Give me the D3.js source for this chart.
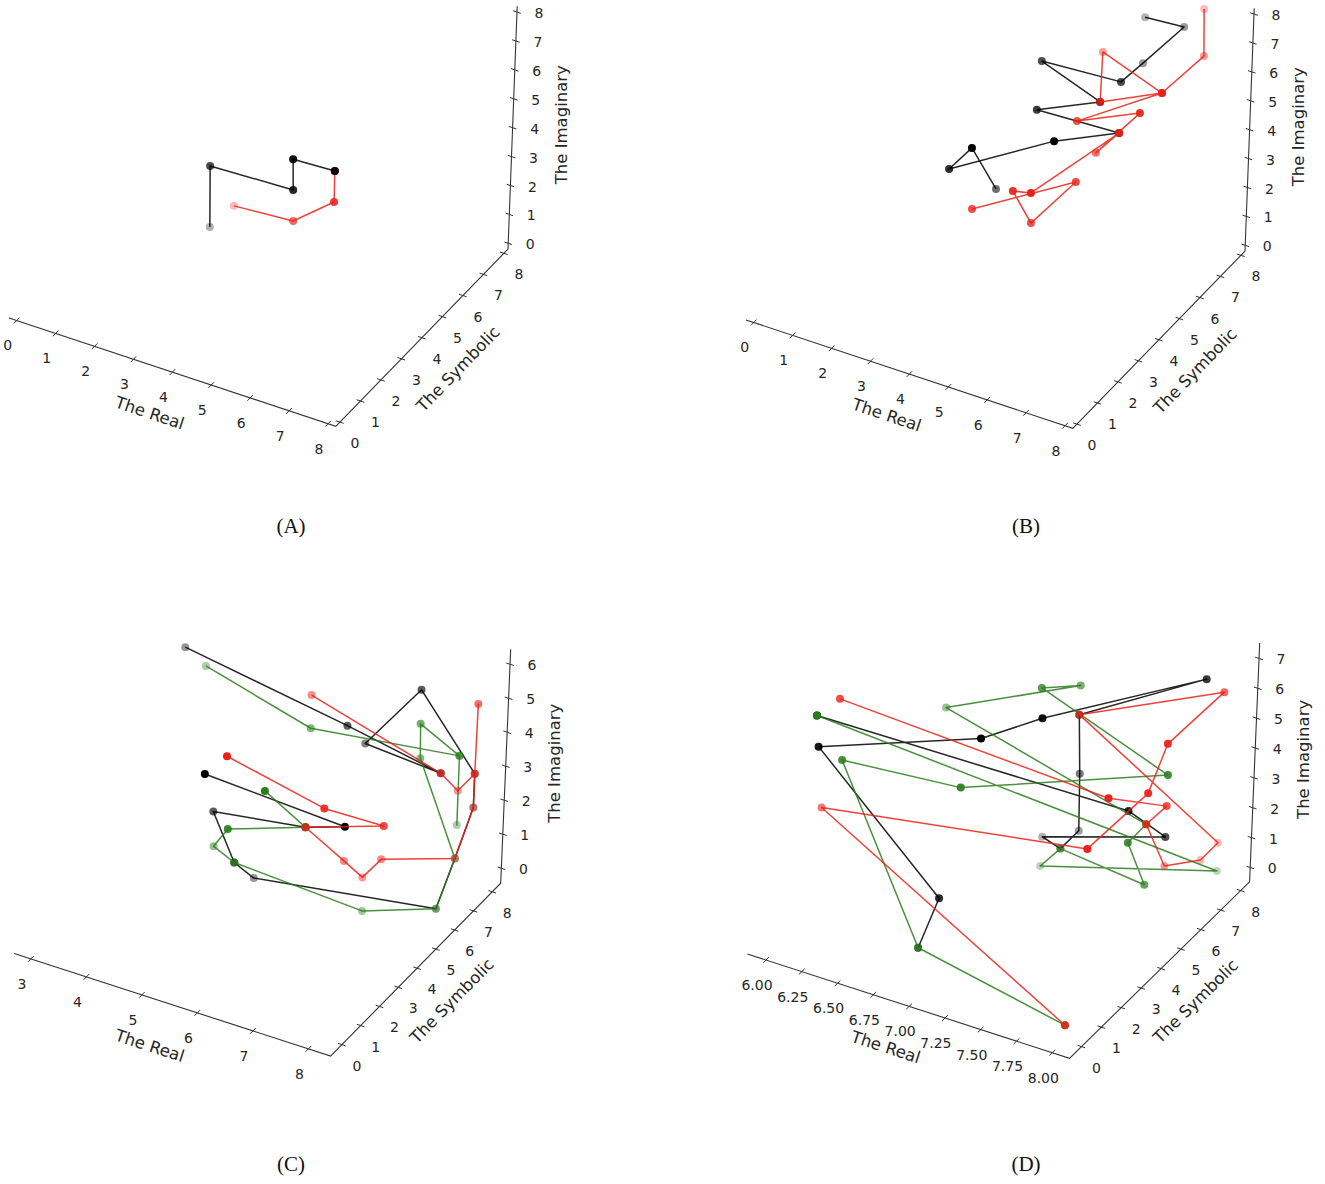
<!DOCTYPE html>
<html>
<head>
<meta charset="utf-8">
<script src="https://cdn.jsdelivr.net/npm/d3@7"></script>
<style>
  body { margin: 0; background: #fff; }
  text { font-family: "DejaVu Sans", sans-serif; fill: #262626; }
  .cap { font-family: "Liberation Serif", "Times New Roman", serif; fill: #111; }
</style>
</head>
<body>
<div id="chart"></div>
<script>
// every point is [The Real, The Symbolic, The Imaginary]
// panel A
const aBlack = [[2.21,5,0.23],[2.66,4,3.27],[4.79,4,3.39],[4.76,4,4.44],[5.83,4,4.51]];
const aRed   = [[2.80,5,1.22],[4.82,4,2.33],[5.84,4,3.44],[5.83,4,4.51]];

// panel B
const bBlack = [[5.54,8,6.85],[6.54,8,6.96],[6.03,7,6.21],[6.24,5.5,6.75],[4.46,5,7.04],[6.23,4.5,6.78],
                [4.88,4,6.27],[6.99,4,6.41],[5.85,3,6.35],[3.71,2,5.16],[4.27,2,6.14],[4.42,3,4.06]];
const bRed   = [[7.03,8,7.80],[7.57,7,7.14],[7.54,5,7.31],[5.50,6,7.09],[6.23,4.5,6.78],[7.54,5,7.31],
                [5.91,4,6.34],[7.25,4.5,6.85],[6.42,4,5.47],[6.99,4,6.41],[5.81,2,5.27],[5.35,2,5.13],
                [5.84,2,4.24],[6.44,3,5.20],[4.58,1.5,4.53]];

// panel C
const cBlack = [[3.08,7,4.50],[6.34,6,4.48],[7.97,6.2,3.83],[6.35,7,3.40],[7.15,7.5,5.12],[8.00,8,2.82],
                [8.00,8,1.83],[7.87,7.5,0.54],[8.05,6,0.00],[5.43,4,0.64],[5.71,2,2.37],[4.98,3,2.92],
                [6.63,3,3.33],[7.65,2,4.45],[5.44,1,5.39]];
const cRed   = [[5.36,7,4.30],[7.97,6.2,3.83],[7.87,7.5,2.53],[8.00,8,2.82],[8.01,8,4.88],[8.00,8,2.82],
                [8.00,8,1.83],[7.87,7.5,0.54],[7.36,5,1.65],[7.04,5,0.95],[6.86,4.5,1.62],[6.63,3,3.33],
                [7.86,3.5,3.74],[7.11,2.5,4.42],[5.66,1.5,5.75]];
const cGreen = [[6.36,1.5,5.10],[6.63,3,3.33],[5.89,1,4.01],[4.85,3.5,1.55],[5.71,2,2.37],[7.22,4.5,0.34],
                [8.05,6,0.00],[7.87,7.5,0.54],[7.34,7,3.49],[7.32,7,4.49],[7.97,7.2,3.78],[7.88,7.5,1.53],
                [7.97,7.2,3.78],[5.69,6,4.06],[3.46,7,4.15]];

// panel D
const dBlack = [[6.90,0.5,0.61],[7.03,0.5,2.47],[6.09,1,5.76],[7.01,2.5,6.48],[7.23,4,6.52],[7.89,7.5,6.57],
                [7.22,6,5.32],[7.24,6,3.37],[7.25,6,1.48],[7.26,5,1.55],[7.00,6,0.89],[7.98,5,3.06],
                [7.85,4,4.38],[6.07,1,6.77]];
const dRed   = [[6.00,2.7,6.11],[7.84,3,5.44],[7.98,5,4.09],[7.91,4.5,3.70],[7.85,6,1.23],[7.90,7.5,0.53],
                [7.95,8,0.86],[7.22,6,5.32],[7.95,8,5.90],[7.97,5,6.16],[7.98,4,5.17],[7.84,2,4.40],
                [6.01,1.9,3.01],[8.00,0,0.05]];
const dGreen = [[6.07,1,6.77],[7.99,7.7,0.17],[7.06,5.5,0.33],[7.26,5,1.55],[7.98,4,2.11],[7.92,3.5,3.75],
                [7.91,4.5,3.70],[6.30,6,4.13],[7.09,7,5.44],[7.02,5.5,6.23],[7.98,5,5.13],[6.95,2,5.07],
                [6.19,1.5,5.14],[6.90,0.5,0.61],[8.00,0,0.05]];

// ticks
const realTicksAB = [0,1,2,3,4,5,6,7,8];
const realTicksC = [3,4,5,6,7,8];
const realTicksD = [6,6.25,6.5,6.75,7,7.25,7.5,7.75,8];
const symTicks = [0,1,2,3,4,5,6,7,8];
const imagTicksAB = [0,1,2,3,4,5,6,7,8];
const imagTicksC = [0,1,2,3,4,5,6];
const imagTicksD = [0,1,2,3,4,5,6,7];
const captions = ["(A)","(B)","(C)","(D)"];
const axisNames = ["The Real","The Symbolic","The Imaginary"];

const colors = {black: "#000000", red: "#ea2119", green: "#2a7d1c"};

const svg = d3.select("#chart").append("svg")
  .attr("width", 1325).attr("height", 1184)
  .style("background", "#fff");

// o = screen corner of the box, eR/eS/eZ = screen vector of each full axis
const panels = [
  {cap: captions[0], capAt: [291,528], series: [["red", aRed], ["black", aBlack]],
   dom: {r: [-0.2,8.2], s: [-0.2,8.2], z: [-0.2,8.2]},
   ticks: {r: realTicksAB, s: symTicks, z: imagTicksAB}, rfmt: d3.format("d"),
   o: [9.0,317.9], eR: [326.8,108.4], eS: [172.2,-177.2], eZ: [9.2,-242.8]},
  {cap: captions[1], capAt: [1026,528], series: [["black", bBlack], ["red", bRed]],
   dom: {r: [-0.2,8.2], s: [-0.2,8.2], z: [-0.2,8.2]},
   ticks: {r: realTicksAB, s: symTicks, z: imagTicksAB}, rfmt: d3.format("d"),
   o: [746.0,319.9], eR: [326.8,108.4], eS: [172.2,-177.2], eZ: [9.2,-242.8]},
  {cap: captions[2], capAt: [291,1166], series: [["black", cBlack], ["green", cGreen], ["red", cRed]],
   dom: {r: [2.7,8.4], s: [-0.6,8.45], z: [-0.44,6.44]},
   ticks: {r: realTicksC, s: symTicks, z: imagTicksC}, rfmt: d3.format("d"),
   o: [14.2,953.5], eR: [316.4,102.6], eS: [170.1,-172.9], eZ: [10.0,-233.9]},
  {cap: captions[3], capAt: [1026,1166], series: [["black", dBlack], ["green", dGreen], ["red", dRed]],
   dom: {r: [5.87,8.12], s: [-0.6,8.45], z: [-0.48,7.52]},
   ticks: {r: realTicksD, s: symTicks, z: imagTicksD}, rfmt: d3.format(".2f"),
   o: [747.4,954.0], eR: [322.1,104.3], eS: [180.1,-176.5], eZ: [10.1,-238.9]}
];

function unit(v) { const l = Math.hypot(v[0], v[1]); return [v[0]/l, v[1]/l]; }

panels.forEach(p => {
  const g = svg.append("g");
  const fr = d3.scaleLinear().domain(p.dom.r).range([0,1]);
  const fs = d3.scaleLinear().domain(p.dom.s).range([0,1]);
  const fz = d3.scaleLinear().domain(p.dom.z).range([0,1]);

  const proj = (r, s, z) => {
    const a = fr(r), b = fs(s), c = fz(z);
    return [p.o[0] + a*p.eR[0] + b*p.eS[0] + c*p.eZ[0],
            p.o[1] + a*p.eR[1] + b*p.eS[1] + c*p.eZ[1]];
  };
  // direction away from the viewer, for depth shading of the markers
  const rx = [p.eR[0], p.eS[0], p.eZ[0]], ry = [p.eR[1], p.eS[1], p.eZ[1]];
  const n = [rx[1]*ry[2]-rx[2]*ry[1], rx[2]*ry[0]-rx[0]*ry[2], rx[0]*ry[1]-rx[1]*ry[0]];
  const depth = d => n[0]*fr(d[0]) + n[1]*fs(d[1]) + n[2]*fz(d[2]);

  const [r0, r1] = p.dom.r, [s0, s1] = p.dom.s, [z0, z1] = p.dom.z;

  // axis lines
  const axisPath = [proj(r0,s0,z0), proj(r1,s0,z0), proj(r1,s1,z0), proj(r1,s1,z1)];
  g.append("path")
    .attr("d", d3.line()(axisPath))
    .attr("fill", "none").attr("stroke", "#333").attr("stroke-width", 1.1);

  const uR = unit(p.eR), uS = unit(p.eS);
  const tickLen = 4;

  // The Real
  p.ticks.r.forEach(t => {
    const [x, y] = proj(t, s0, z0);
    g.append("line").attr("x1", x - uS[0]*tickLen).attr("y1", y - uS[1]*tickLen)
      .attr("x2", x + uS[0]*tickLen).attr("y2", y + uS[1]*tickLen)
      .attr("stroke", "#333").attr("stroke-width", 1);
    g.append("text").attr("x", x - 9).attr("y", y + 26)
      .attr("text-anchor", "middle").attr("dominant-baseline", "middle")
      .attr("font-size", 14).text(p.rfmt(t));
  });
  // The Symbolic
  p.ticks.s.forEach(t => {
    const [x, y] = proj(r1, t, z0);
    g.append("line").attr("x1", x - uR[0]*tickLen).attr("y1", y - uR[1]*tickLen)
      .attr("x2", x + uR[0]*tickLen).attr("y2", y + uR[1]*tickLen)
      .attr("stroke", "#333").attr("stroke-width", 1);
    g.append("text").attr("x", x + 15).attr("y", y + 22)
      .attr("text-anchor", "middle").attr("dominant-baseline", "middle")
      .attr("font-size", 14).text(t);
  });
  // The Imaginary
  p.ticks.z.forEach(t => {
    const [x, y] = proj(r1, s1, t);
    g.append("line").attr("x1", x - uR[0]*tickLen).attr("y1", y - uR[1]*tickLen)
      .attr("x2", x + uR[0]*tickLen).attr("y2", y + uR[1]*tickLen)
      .attr("stroke", "#333").attr("stroke-width", 1);
    g.append("text").attr("x", x + 22).attr("y", y + 2)
      .attr("text-anchor", "middle").attr("dominant-baseline", "middle")
      .attr("font-size", 14).text(t);
  });

  // axis titles
  const angR = Math.atan2(p.eR[1], p.eR[0]) * 180 / Math.PI;
  const angS = Math.atan2(p.eS[1], p.eS[0]) * 180 / Math.PI;
  const mR = proj((r0+r1)/2, s0, z0), mS = proj(r1, (s0+s1)/2, z0), mZ = proj(r1, s1, (z0+z1)/2);
  [[axisNames[0], mR[0]-23, mR[1]+42, angR],
   [axisNames[1], mS[0]+37, mS[1]+32, angS],
   [axisNames[2], mZ[0]+50, mZ[1]-3, -90]].forEach(([txt, x, y, a]) => {
    g.append("text")
      .attr("transform", `translate(${x},${y}) rotate(${a})`)
      .attr("text-anchor", "middle").attr("dominant-baseline", "middle")
      .attr("font-size", 16.5).text(txt);
  });

  // series: line then depth-shaded markers
  p.series.forEach(([name, data]) => {
    g.append("path")
      .attr("d", d3.line()(data.map(d => proj(d[0], d[1], d[2]))))
      .attr("fill", "none").attr("stroke", colors[name])
      .attr("stroke-opacity", 0.85).attr("stroke-width", 1.5)
      .attr("stroke-linejoin", "round");

    const ds = data.map(depth);
    const dmin = d3.min(ds), dmax = d3.max(ds);
    const shade = d3.scaleLinear().domain([dmin, dmax]).range([1, 0.3]);
    const pts = data.map((d, i) => ({xy: proj(d[0], d[1], d[2]), dep: ds[i]}))
      .sort((a, b) => b.dep - a.dep);
    g.selectAll(null).data(pts).enter().append("circle")
      .attr("cx", d => d.xy[0]).attr("cy", d => d.xy[1])
      .attr("r", 4)
      .attr("fill", colors[name])
      .attr("fill-opacity", d => shade(d.dep));
  });

  svg.append("text").attr("class", "cap")
    .attr("x", p.capAt[0]).attr("y", p.capAt[1])
    .attr("text-anchor", "middle").attr("dominant-baseline", "middle")
    .attr("font-size", 21).text(p.cap);
});
</script>
</body>
</html>
